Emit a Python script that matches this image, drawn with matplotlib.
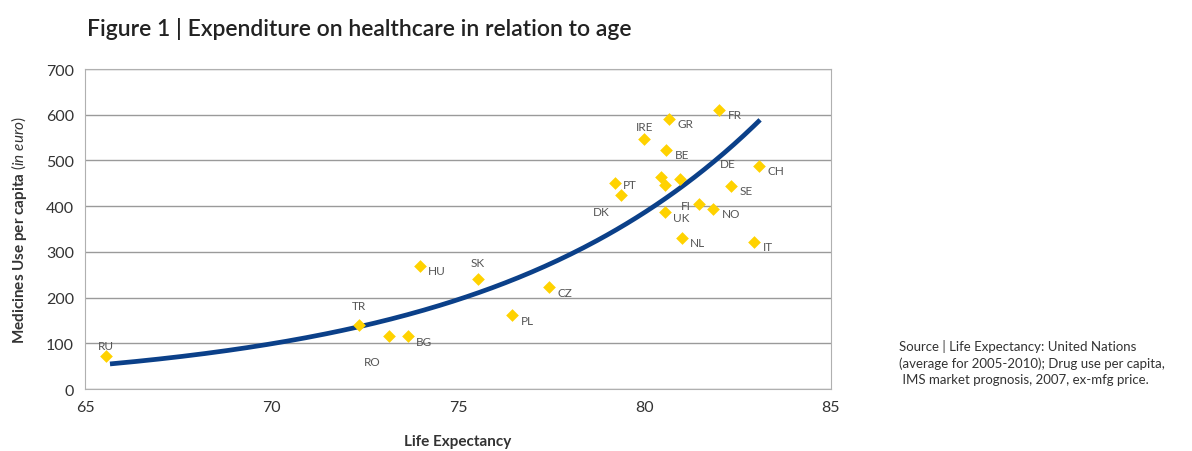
import matplotlib

matplotlib.use("Agg")

import numpy as np
import matplotlib.pyplot as plt

plt.rcParams["font.family"] = ["Lato", "DejaVu Sans"]
plt.rcParams["mathtext.fontset"] = "custom"
plt.rcParams["mathtext.it"] = "Lato:italic"
plt.rcParams["mathtext.rm"] = "Lato"

# Data
countries = ["RU", "TR", "RO", "BG", "HU", "SK", "PL", "CZ", "PT", "DK",
             "IRE", "GR", "BE", "FR", "DE1", "DE2", "DE", "CH", "SE", "FI",
             "NO", "UK", "NL", "IT"]
life_exp = [65.56, 72.35, 73.15, 73.66, 73.98, 75.54, 76.45, 77.44, 79.2, 79.36,
            80.0, 80.66, 80.58, 82.0, 80.44, 80.55, 80.95, 83.07, 82.32, 81.46,
            81.84, 80.55, 81.0, 82.94]
medicines = [72, 140, 116, 116, 269, 241, 162, 223, 451, 425,
             547, 591, 523, 610, 464, 446, 460, 488, 444, 405,
             394, 387, 330, 322]

# exponential trendline (y = a * exp(b * x)) as shown on the chart
trend_a = 0.00725
trend_b = 0.13604
trend_range = [65.67, 83.1]

# label offsets in points (dx, dy)
offsets = {
    "RU": (0, 8), "TR": (0, 14), "RO": (-6, -18), "BG": (6, -4), "HU": (6, -3),
    "SK": (0, 12), "PL": (6, -4), "CZ": (6, -4), "PT": (6, -1), "DK": (-8, -12),
    "IRE": (0, 9), "GR": (6, -3), "BE": (6, -3), "FR": (6, -3), "DE": (29, 11),
    "CH": (6, -3), "SE": (6, -3), "FI": (-6, -1), "NO": (6, -3), "UK": (6, -4),
    "NL": (6, -3), "IT": (6, -3),
}

x = np.array(life_exp)
y = np.array(medicines)

xt = np.linspace(trend_range[0], trend_range[1], 200)
yt = trend_a * np.exp(trend_b * xt)

fig = plt.figure(figsize=(11.92, 4.52), dpi=100)
ax = fig.add_axes([0.0713, 0.137, 0.6258, 0.708])

ax.plot(xt, yt, color="#0b4089", lw=3.4, solid_capstyle="butt", zorder=2)
ax.scatter(x, y, marker="D", s=42, color="#ffd200", zorder=3, linewidths=0)

for name, xi, yi in zip(countries, life_exp, medicines):
    if name not in offsets:
        continue
    dx, dy = offsets[name]
    ha = "left" if dx > 0 else ("right" if dx < 0 else "center")
    ax.annotate(name, (xi, yi), xytext=(dx, dy), textcoords="offset points",
                ha=ha, va="center", fontsize=8.5, color="#555555", zorder=4)

ax.set_xlim(65, 85)
ax.set_ylim(0, 700)
ax.set_xticks([65, 70, 75, 80, 85])
ax.set_yticks(range(0, 701, 100))
ax.yaxis.grid(True, color="#9a9a9a", lw=1)
ax.set_axisbelow(True)
for s in ax.spines.values():
    s.set_color("#b0b0b0")
ax.tick_params(length=0, labelsize=11.5, colors="#333333", pad=8)

ax.set_xlabel("Life Expectancy", fontsize=11, fontweight="bold", color="#333333", labelpad=14)
ax.set_ylabel(r"Medicines Use per capita $\it{(in\ euro)}$", fontsize=11,
              fontweight="bold", color="#333333", labelpad=12)

fig.text(0.073, 0.935, "Figure 1 | Expenditure on healthcare in relation to age",
         fontsize=16.5, fontweight="semibold", color="#222222", va="center", ha="left")

fig.text(0.754, 0.145,
         "Source | Life Expectancy: United Nations\n(average for 2005-2010); Drug use per capita,\n IMS market prognosis, 2007, ex-mfg price.",
         fontsize=9.5, color="#333333", va="bottom", ha="left", linespacing=1.45)

fig.savefig("out.png", dpi=100)
